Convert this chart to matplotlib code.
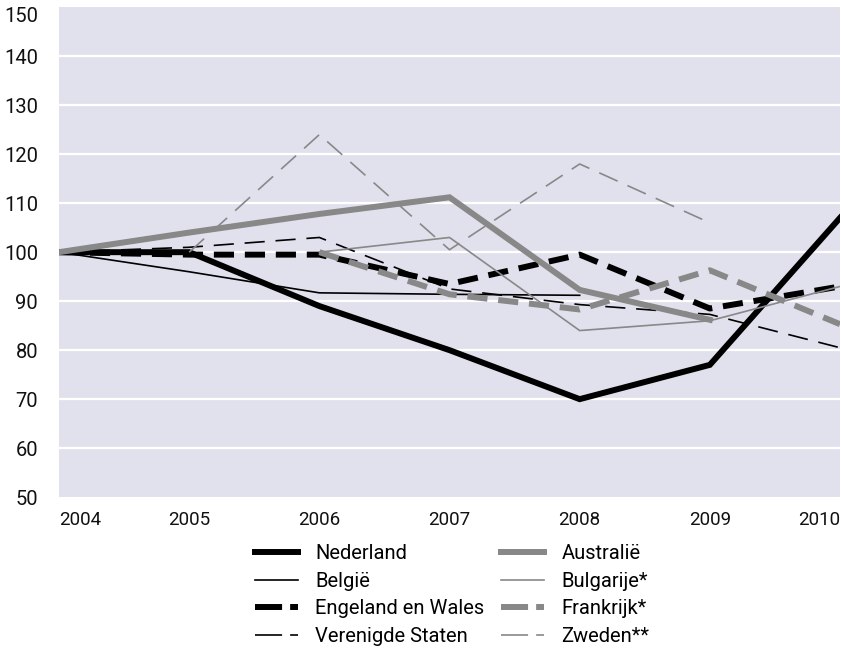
import numpy as np
import matplotlib
matplotlib.use("Agg")
import matplotlib.pyplot as plt

plt.rcParams['font.family'] = ['Roboto', 'DejaVu Sans']
plt.rcParams['lines.scale_dashes'] = False

# index 2004 = 100
years = [2004, 2005, 2006, 2007, 2008, 2009, 2010]
nederland = [100, 100, 89, 80, 70, 77, 107]
belgie = [100, 96, 91.7, 91.4, 91.2, None, None]
engeland = [100, 99.5, 99.5, 93.5, 99.5, 88.5, 93]
vs = [100, 101, 103, 92.5, 89.3, 87.3, 80.5]
australie = [100, 104, 107.8, 111.2, 92.3, 86.2, None]
bulgarije = [None, None, 100, 103, 84, 86, 93]
frankrijk = [None, None, 100, 91.4, 88.3, 96.3, 85.3]
zweden = [None, 100, 124, 100.5, 118, 106, None]

labels = ['Nederland', 'België', 'Engeland en Wales', 'Verenigde Staten',
          'Australië', 'Bulgarije*', 'Frankrijk*', 'Zweden**']
series = [nederland, belgie, engeland, vs, australie, bulgarije, frankrijk, zweden]

black = '#000000'
grey = '#888888'
thick = 4.3
thin = 1.2
dash = (14.5, 7.8)
styles = [
    (black, thick, None),
    (black, thin, None),
    (black, thick, dash),
    (black, thin, dash),
    (grey, thick, None),
    (grey, thin, None),
    (grey, thick, dash),
    (grey, thin, dash),
]

fig = plt.figure(figsize=(8.41, 6.55), dpi=100)
ax = fig.add_axes([0.0702, 0.241, 0.9286, 0.748])
ax.set_facecolor('#e1e1ee')

for lab, vals, (c, lw, ds) in zip(labels, series, styles):
    y = np.array([np.nan if v is None else v for v in vals], dtype=float)
    kw = dict(color=c, lw=lw, label=lab, solid_joinstyle='miter')
    if ds is not None:
        kw['dashes'] = ds
    ax.plot(years, y, **kw)

ax.set_xlim(2004, 2010)
ax.set_ylim(50, 150)
ax.set_yticks(range(50, 151, 10))
ax.set_xticks(years)
ax.set_xticklabels([str(y) for y in years])
ax.get_xticklabels()[0].set_ha('left')
ax.get_xticklabels()[-1].set_ha('right')
ax.get_yticklabels()[-1].set_va('top')

for g in range(60, 150, 10):
    ax.axhline(g, color='white', lw=1.6, zorder=0.5)

ax.tick_params(axis='both', length=0, colors='#111111')
ax.tick_params(axis='x', pad=10, labelsize=13.5)
ax.tick_params(axis='y', pad=15, labelsize=14.5)
for s in ax.spines.values():
    s.set_visible(False)

leg = fig.legend(loc='upper left', bbox_to_anchor=(0.303, 0.1695), ncol=2,
                 frameon=False, fontsize=14.5, handlelength=2.14, handletextpad=0.85,
                 columnspacing=0.85, labelspacing=0.43, borderpad=0, borderaxespad=0)
# legend keys show one long dash and a short one
for line, (c, lw, ds) in zip(leg.get_lines(), styles):
    if ds is not None:
        line.set_dashes((19.5, 5.8))

fig.savefig('out.png', dpi=100)
